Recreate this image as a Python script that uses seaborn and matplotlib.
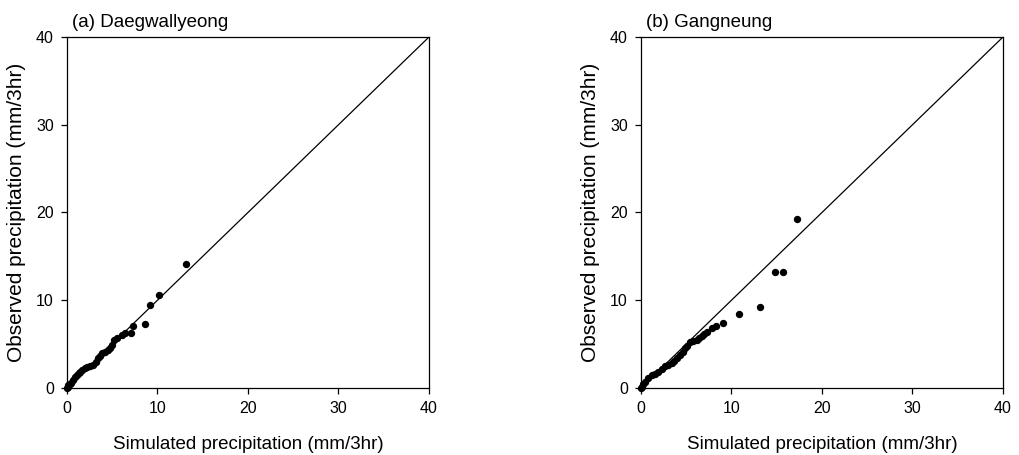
"""
Observed vs. simulated 3-hourly precipitation at two stations.
"""

import matplotlib
matplotlib.use('Agg')
from matplotlib import pyplot as plt
import pandas as pd
import seaborn as sns

# Daegwallyeong (simulated, observed)
daeg_sim = [0.0, 0.1, 0.15, 0.3, 0.5, 0.7, 0.88, 1.1, 1.3, 1.44, 1.7, 2.0, 2.17,
            2.5, 2.91, 3.2, 3.46, 3.6, 3.83, 4.2, 4.57, 4.75, 4.94, 5.19, 5.56,
            6.04, 6.4, 7.03, 7.26, 8.62, 9.17, 10.17, 13.15]
daeg_obs = [0.0, 0.1, 0.3, 0.45, 0.6, 0.9, 1.29, 1.5, 1.7, 1.86, 2.1, 2.3, 2.43,
            2.45, 2.62, 3.0, 3.38, 3.7, 3.95, 4.1, 4.33, 4.6, 4.9, 5.47, 5.66,
            6.04, 6.3, 6.3, 7.07, 7.26, 9.5, 10.6, 14.1]

# Gangneung (simulated, observed)
gang_sim = [0.0, 0.08, 0.25, 0.44, 0.8, 1.18, 1.5, 1.92, 2.3, 2.65, 3.0, 3.39,
            3.7, 3.94, 4.3, 4.68, 4.85, 5.05, 5.41, 5.8, 6.15, 6.45, 6.7, 7.0,
            7.26, 7.81, 8.29, 9.1, 10.8, 13.15, 14.8, 15.66, 17.27]
gang_obs = [0.0, 0.15, 0.4, 0.72, 1.1, 1.48, 1.6, 1.86, 2.2, 2.5, 2.6, 2.81,
            3.1, 3.38, 3.8, 4.14, 4.5, 4.79, 5.28, 5.35, 5.47, 5.7, 5.93, 6.1,
            6.42, 6.8, 7.07, 7.44, 8.43, 9.23, 13.18, 13.18, 19.26]

TICKS = [0, 10, 20, 30, 40]
PANELS = [('(a) Daegwallyeong', daeg_sim, daeg_obs),
          ('(b) Gangneung', gang_sim, gang_obs)]

sns.set_style('ticks')
plt.rcParams['font.family'] = ['Liberation Sans', 'DejaVu Sans']
plt.rcParams.update({'text.color': 'black', 'axes.labelcolor': 'black',
                     'xtick.color': 'black', 'ytick.color': 'black'})

fig = plt.figure(figsize=(10.19, 4.55), dpi=100)
lefts = [0.0657, 0.629]

for left, (title, sim, obs) in zip(lefts, PANELS):
    ax = fig.add_axes([left, 0.1473, 0.3553, 0.7714])
    df = pd.DataFrame({'sim': sim, 'obs': obs})

    # 1:1 line
    line = pd.DataFrame({'x': [0, 40], 'y': [0, 40]})
    sns.lineplot(data=line, x='x', y='y', ax=ax, color='black', lw=0.9)
    sns.scatterplot(data=df, x='sim', y='obs', ax=ax, color='black',
                    s=28, edgecolor='black', linewidth=0, zorder=3,
                    clip_on=False)

    ax.set_xlim(0, 40)
    ax.set_ylim(0, 40)
    ax.set_xticks(TICKS)
    ax.set_yticks(TICKS)
    ax.tick_params(labelsize=11.5, length=4.5, width=0.9, color='black',
                   pad=5)
    for spine in ax.spines.values():
        spine.set_visible(True)
        spine.set_linewidth(0.9)
        spine.set_color('black')
    ax.set_xlabel('Simulated precipitation (mm/3hr)', fontsize=13.5, labelpad=14)
    ax.set_ylabel('Observed precipitation (mm/3hr)', fontsize=15, labelpad=7)
    ax.set_title(title, loc='left', fontsize=13.5, pad=7, x=0.015)

fig.savefig('out.png', dpi=100)
plt.close(fig)
